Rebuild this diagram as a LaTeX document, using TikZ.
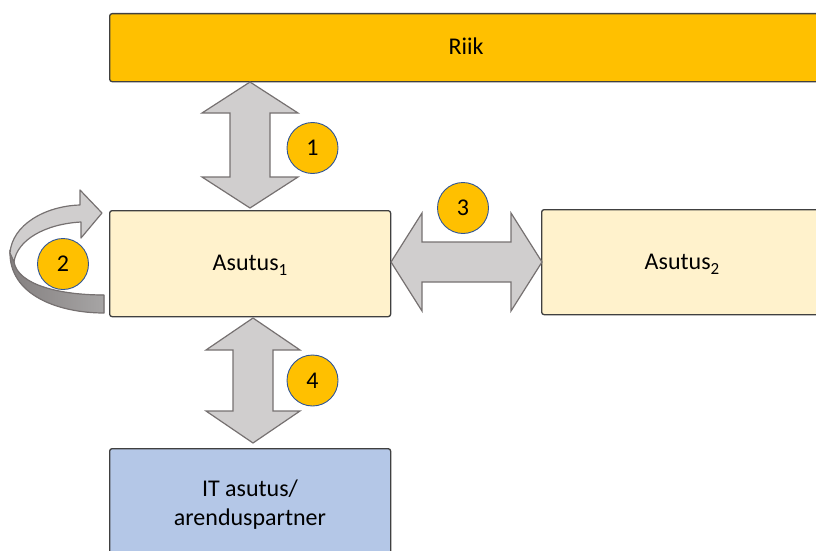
\documentclass[tikz,border=0pt]{standalone}
\usepackage{fontspec}
\setmainfont{Carlito}
\definecolor{riikfill}{HTML}{FFC000}
\definecolor{orgfill}{HTML}{FFF2CC}
\definecolor{itfill}{HTML}{B4C7E7}
\definecolor{boxline}{HTML}{404040}
\definecolor{arrowfill}{HTML}{D0CECE}
\definecolor{arrowline}{HTML}{767171}
\definecolor{badgeline}{HTML}{2F5597}
\tikzset{
  box/.style={draw=boxline, line width=1.3pt, rounded corners=2.5pt, anchor=north west,
    inner sep=0pt, align=center},
  label/.style={inner sep=0pt, align=center, font=\fontsize{24}{29}\selectfont},
  blockarrow/.style={draw=arrowline, fill=arrowfill, line width=1.2pt, line join=miter},
  badge/.style={circle, draw=badgeline, fill=riikfill, line width=0.9pt, minimum size=51pt,
    inner sep=0pt, font=\fontsize{24}{28}\selectfont},
}
\newcommand{\subidx}[1]{\raisebox{-5pt}{\fontsize{17}{20}\selectfont #1}}
% vertical double block arrow: centre x, top tip y, bottom tip y, head half width, head length
\newcommand{\vblockarrow}[5]{%
  \draw[blockarrow] (#1,#2) -- (#1+#4,#2+#5) -- (#1+20,#2+#5) -- (#1+20,#3-#5)
    -- (#1+#4,#3-#5) -- (#1,#3) -- (#1-#4,#3-#5) -- (#1-20,#3-#5)
    -- (#1-20,#2+#5) -- (#1-#4,#2+#5) -- cycle;}
% horizontal double block arrow: centre y, left tip x, right tip x, head half width, head length
\newcommand{\hblockarrow}[5]{%
  \draw[blockarrow] (#2,#1) -- (#2+#5,#1-#4) -- (#2+#5,#1-20) -- (#3-#5,#1-20)
    -- (#3-#5,#1-#4) -- (#3,#1) -- (#3-#5,#1+#4) -- (#3-#5,#1+20)
    -- (#2+#5,#1+20) -- (#2+#5,#1+#4) -- cycle;}
\begin{document}
\begin{tikzpicture}[x=1pt, y=-1pt]
  \useasboundingbox (0,0) rectangle (816,551);
  \clip (0,0) rectangle (816,551);

  % organisations
  \node[box, fill=riikfill, minimum width=714pt, minimum height=68pt] (riik) at (109,13) {};
  \node[box, fill=orgfill, minimum width=281pt, minimum height=106pt] (asutus1) at (109,210) {};
  \node[box, fill=orgfill, minimum width=282pt, minimum height=105pt] (asutus2) at (541,209) {};
  \node[box, fill=itfill, minimum width=281pt, minimum height=110pt] (it) at (109,448) {};

  \node[label, anchor=base] (riiktext) at (466,55) {Riik};
  \node[label, anchor=base] (asutus1text) at (250,270) {Asutus\subidx{1}};
  \node[label, anchor=base] (asutus2text) at (682,269) {Asutus\subidx{2}};
  \node[label] (ittext) at (250,505) {IT asutus/\\arenduspartner};

  % relations
  \vblockarrow{250}{82}{208}{48}{31}
  \hblockarrow{262}{391}{542}{49}{31}
  \vblockarrow{253}{318}{443}{47}{32}

  % self relation: twisted ribbon arrow around Asutus_1
  \fill[left color=arrowline!90, right color=arrowfill!80!black, draw=arrowline, line width=1.2pt, line join=round]
    (10,250) .. controls (8,296) and (60,313) .. (104,313) -- (104,295)
    .. controls (60,295) and (18,285) .. (14,262) -- cycle;
  \draw[blockarrow, line join=round]
    (10,253) .. controls (12,225) and (45,206) .. (80,205) -- (80,190) -- (102,213)
    -- (81,238) -- (81,222) .. controls (45,224) and (17,240) .. (14,262) -- cycle;

  % numbered badges
  \node[badge] (b1) at (312.5,148) {1};
  \node[badge] (b2) at (63,264) {2};
  \node[badge] (b3) at (463,208) {3};
  \node[badge] (b4) at (312.5,380.5) {4};
\end{tikzpicture}
\end{document}
